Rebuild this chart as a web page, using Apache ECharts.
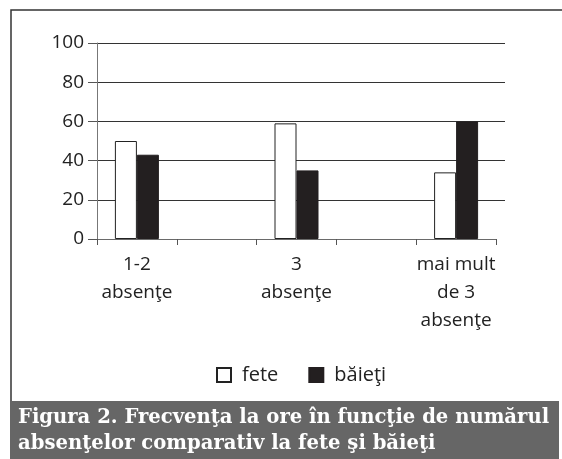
<!DOCTYPE html>
<html>
<head>
<meta charset="utf-8">
<script src="https://cdn.jsdelivr.net/npm/echarts@6/dist/echarts.min.js"></script>
<style>html,body{margin:0;padding:0;background:#fff}#c{width:562px;height:459px}</style>
</head>
<body>
<div id="c"></div>
<script>
const categories = ['1-2\nabsenţe', '', '3\nabsenţe', '', 'mai mult\nde 3\nabsenţe'];
const seriesNames = ['fete', 'băieţi'];
const fete = [50, null, 59, null, 34];
const baieti = [43, null, 35, null, 60];
const yMin = 0, yMax = 100, yStep = 20;
const captionLines = ['Figura 2. Frecvenţa la ore în funcţie de numărul', 'absenţelor comparativ la fete şi băieţi'];

const FONT = '"Open Sans", sans-serif';
const chart = echarts.init(document.getElementById('c'), null, {renderer: 'canvas'});
chart.setOption({
  animation: false,
  backgroundColor: '#fff',
  grid: [
    {left: 97, top: 43, width: 408, height: 196},
    {left: 97, top: 43, width: 399, height: 196}
  ],
  xAxis: [
    {gridIndex: 0, type: 'value', min: 0, max: 1, show: false},
    {gridIndex: 1, type: 'category', data: categories,
     axisLine: {lineStyle: {color: '#6a6a6a', width: 1}},
     axisTick: {show: true, length: 6, lineStyle: {color: '#555'}},
     axisLabel: {interval: 0, fontSize: 19, fontFamily: FONT, color: '#222', lineHeight: 28, margin: 12}}
  ],
  yAxis: [
    {gridIndex: 0, type: 'value', min: yMin, max: yMax, interval: yStep,
     axisLine: {show: true, lineStyle: {color: '#777', width: 1}},
     axisTick: {show: true, length: 9, lineStyle: {color: '#555'}},
     axisLabel: {fontSize: 19, fontFamily: FONT, color: '#222', margin: 13},
     splitLine: {show: true, showMinLine: false, lineStyle: {color: '#333', width: 1}}},
    {gridIndex: 1, type: 'value', min: yMin, max: yMax, interval: yStep, show: false, splitLine: {show: false}}
  ],
  legend: {
    left: 211, top: 360,
    itemWidth: 14, itemHeight: 14, itemGap: 30, icon: 'rect',
    textStyle: {fontSize: 20, fontFamily: FONT, color: '#222', padding: [0, 0, 0, 6]},
    data: seriesNames
  },
  series: [
    {name: seriesNames[0], type: 'bar', xAxisIndex: 1, yAxisIndex: 1, data: fete,
     barWidth: 22, barGap: '0%',
     itemStyle: {color: '#fff', borderColor: '#222', borderWidth: 1}},
    {name: seriesNames[1], type: 'bar', xAxisIndex: 1, yAxisIndex: 1, data: baieti,
     barWidth: 22, barGap: '0%',
     itemStyle: {color: '#231f20', borderColor: '#231f20', borderWidth: 1}}
  ],
  graphic: [
    {type: 'polyline', shape: {points: [[11, 401], [11, 10], [562, 10]]},
     style: {stroke: '#333', lineWidth: 1.5, fill: null}},
    {type: 'rect', shape: {x: 10, y: 401, width: 549, height: 58}, style: {fill: '#666'}},
    {type: 'text', x: 18, y: 405,
     style: {text: captionLines.join('\n'), fill: '#fff', fontSize: 19.6, fontWeight: 'bold',
             fontFamily: '"DejaVu Serif", serif', lineHeight: 26}}
  ]
});
</script>
</body>
</html>
